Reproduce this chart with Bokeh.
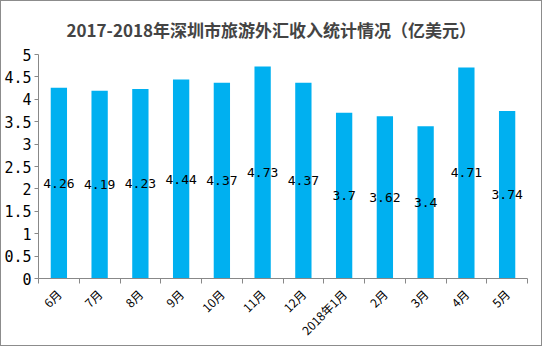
from bokeh.plotting import figure
from bokeh.models import Range1d, FixedTicker, NumeralTickFormatter, ColumnDataSource
from bokeh.core.properties import value
from bokeh.embed import file_html
from bokeh.resources import INLINE
import math

categories = ["6月", "7月", "8月", "9月", "10月", "11月", "12月", "2018年1月", "2月", "3月", "4月", "5月"]
income = [4.26, 4.19, 4.23, 4.44, 4.37, 4.73, 4.37, 3.7, 3.62, 3.4, 4.71, 3.74]
label_texts = ["4.26", "4.19", "4.23", "4.44", "4.37", "4.73", "4.37", "3.7", "3.62", "3.4", "4.71", "3.74"]
y_ticks = [0, 0.5, 1, 1.5, 2, 2.5, 3, 3.5, 4, 4.5, 5]
title_text = "2017-2018年深圳市旅游外汇收入统计情况（亿美元）"

n = len(categories)
xs = list(range(n))
src = ColumnDataSource(dict(x=xs, top=income, mid=[v / 2 for v in income], lab=label_texts))

p = figure(width=542, height=346, output_backend="svg", toolbar_location=None,
           x_range=Range1d(-0.5, n - 0.5), y_range=Range1d(0, 5),
           min_border_left=33, min_border_right=16, min_border_top=51, min_border_bottom=64)
p.styles = {"border": "1px solid #8c8c8c"}
p.title.text = title_text
p.title.text_font = "Noto Sans CJK SC"
p.title.text_font_size = "17px"
p.title.text_font_style = "bold"
p.title.align = "left"
p.title.offset = 28
p.title.standoff = 26
p.outline_line_color = None
p.xgrid.visible = False
p.ygrid.visible = False

bar_color = "#00B0F0"
p.vbar(x="x", top="top", width=0.4, source=src, fill_color=bar_color, line_color=None)
p.text(x="x", y="mid", text="lab", source=src, text_align="center", text_baseline="middle",
       text_font=value("DejaVu Sans Mono"), text_font_size="13px", text_color="black")

axis_color = "#888888"
xa = p.xaxis[0]
xa.ticker = FixedTicker(ticks=xs, minor_ticks=[i - 0.5 for i in range(n + 1)])
xa.major_label_overrides = {i: c for i, c in enumerate(categories)}
xa.major_label_orientation = math.pi / 4
xa.major_tick_in = 0
xa.major_tick_out = 0
xa.minor_tick_in = 0
xa.minor_tick_out = 5
xa.minor_tick_line_color = axis_color
xa.axis_line_color = axis_color
xa.major_label_text_font = "Noto Sans CJK SC"
xa.major_label_text_font_size = "12px"
xa.major_label_text_color = "black"
xa.major_label_standoff = 8

ya = p.yaxis[0]
ya.ticker = FixedTicker(ticks=y_ticks)
ya.formatter = NumeralTickFormatter(format="0.[0]")
ya.major_tick_in = 0
ya.major_tick_out = 4
ya.minor_tick_line_color = None
ya.axis_line_color = axis_color
ya.major_tick_line_color = axis_color
ya.major_label_text_font = "DejaVu Sans Mono"
ya.major_label_text_font_size = "15px"
ya.major_label_text_color = "black"
ya.major_label_standoff = 3

open("out.html", "w").write(file_html(p, INLINE))
